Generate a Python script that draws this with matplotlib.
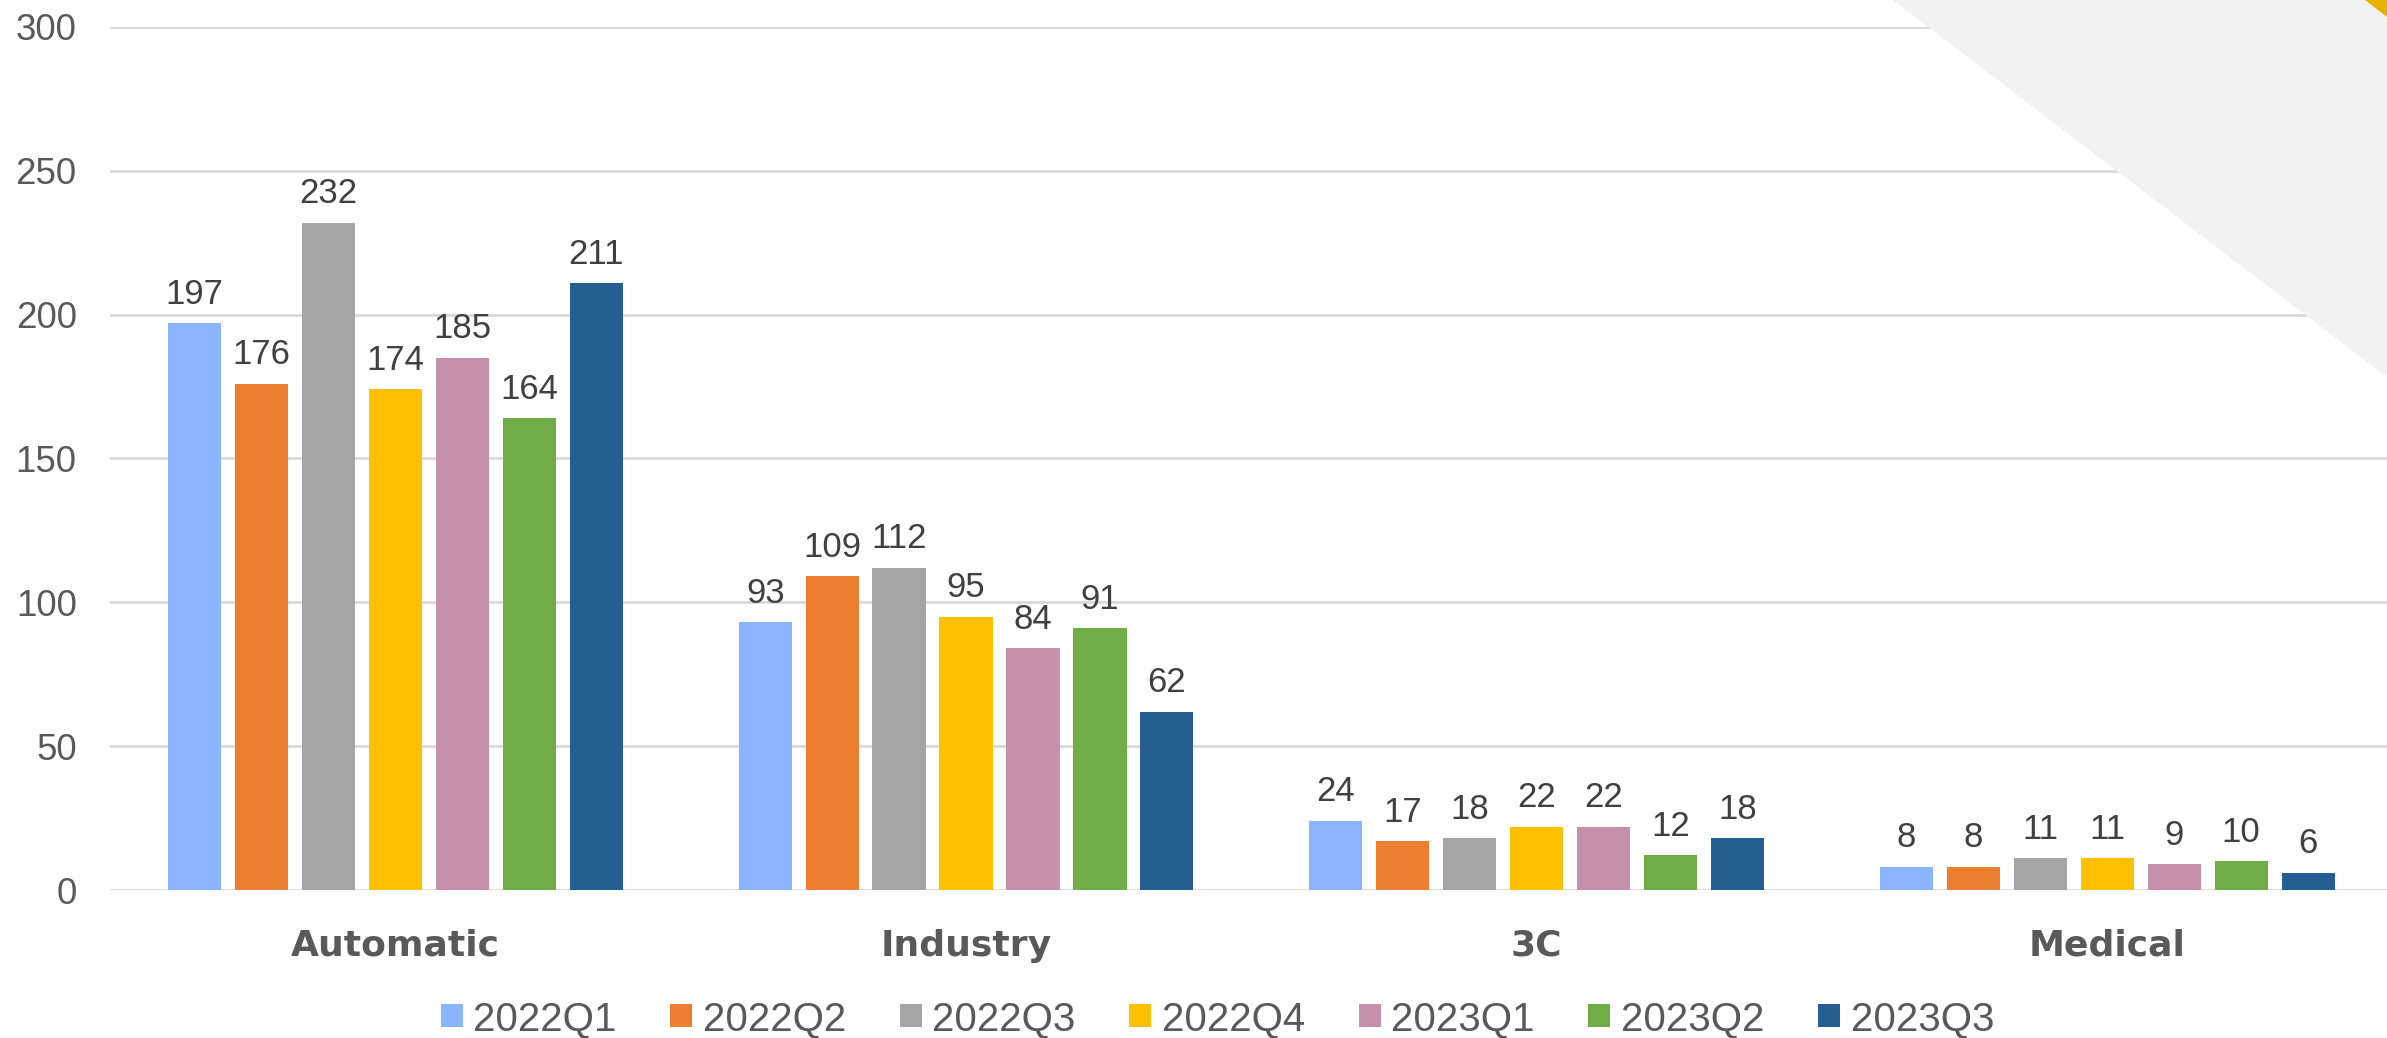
import numpy as np
import matplotlib
matplotlib.use("Agg")
import matplotlib.pyplot as plt
from matplotlib.patches import Polygon

# ================== DATA ==================
categories = ["Automatic", "Industry", "3C", "Medical"]
quarters = ["2022Q1", "2022Q2", "2022Q3", "2022Q4", "2023Q1", "2023Q2", "2023Q3"]

q2022_1 = [197, 93, 24, 8]
q2022_2 = [176, 109, 17, 8]
q2022_3 = [232, 112, 18, 11]
q2022_4 = [174, 95, 22, 11]
q2023_1 = [185, 84, 22, 9]
q2023_2 = [164, 91, 12, 10]
q2023_3 = [211, 62, 18, 6]

series = [q2022_1, q2022_2, q2022_3, q2022_4, q2023_1, q2023_2, q2023_3]
colors = ["#8AB4FF", "#ED7D31", "#A5A5A5", "#FFC000", "#C490AA", "#70AD47", "#255E91"]

yticks = [0, 50, 100, 150, 200, 250, 300]

# ================== STYLE ==================
plt.rcParams["font.family"] = ["Liberation Sans", "DejaVu Sans"]
W, H = 2387, 1038
fig = plt.figure(figsize=(W / 100, H / 100), dpi=100)
fig.patch.set_facecolor("white")

# decorative corner shapes
fig.patches.append(Polygon([(1893 / W, 1.0), (1.0, 1.0), (1.0, 1 - 377 / H)],
                           closed=True, transform=fig.transFigure,
                           facecolor="#F2F2F2", edgecolor="none", zorder=0))
fig.patches.append(Polygon([(2365 / W, 1.0), (1.0, 1.0), (1.0, 1 - 17 / H)],
                           closed=True, transform=fig.transFigure,
                           facecolor="#E8B000", edgecolor="none", zorder=0))

ax = fig.add_axes([110 / W, 1 - 890 / H, 1 - 110 / W, (890 - 27) / H])
ax.patch.set_alpha(0)

# ================== BARS ==================
x = np.arange(len(categories))
stride = 0.1173
width = 0.0933
for i, (vals, col, lab) in enumerate(zip(series, colors, quarters)):
    off = (i - 3) * stride
    bars = ax.bar(x + off, vals, width, color=col, label=lab, zorder=3)
    ax.bar_label(bars, padding=9, fontsize=25, color="#404040")

ax.set_xlim(-0.5, 3.49)
ax.set_ylim(0, 300)
ax.set_yticks(yticks)
ax.set_xticks(x)
ax.set_xticklabels(categories, fontsize=26, fontweight="bold", color="#595959",
                   family=["DejaVu Sans"])
ax.tick_params(axis="y", labelsize=26.5, labelcolor="#595959", length=0, pad=24)
ax.tick_params(axis="x", length=0, pad=28)
ax.grid(axis="y", color="#D9D9D9", linewidth=2, zorder=0)
for s in ax.spines.values():
    s.set_visible(False)

# ================== LEGEND ==================
fig.legend(loc="center", bbox_to_anchor=(0.51, 1 - 1019 / H), ncol=7,
           fontsize=29, frameon=False, handlelength=0.55, handleheight=0.52,
           handletextpad=0.26, columnspacing=1.33, labelcolor="#595959")

fig.savefig("out.png", dpi=100)
